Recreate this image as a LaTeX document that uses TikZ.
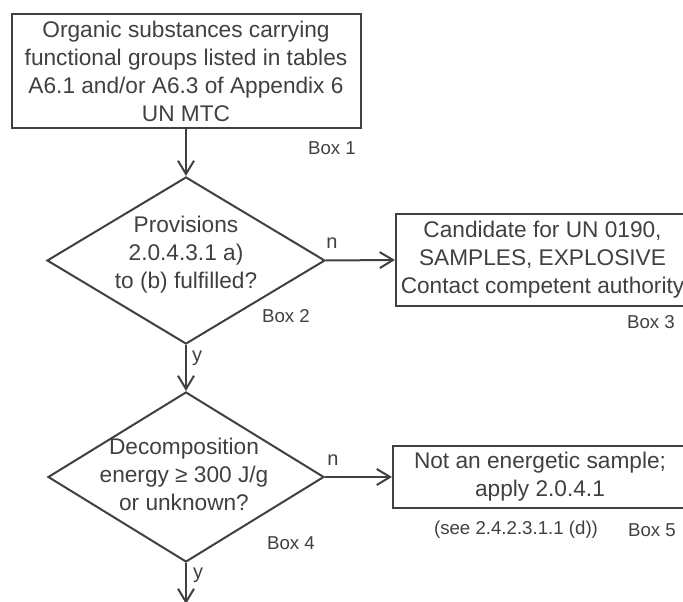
\documentclass[tikz,border=0pt]{standalone}
\usepackage{fontspec}
\setmainfont{Liberation Sans}
\usetikzlibrary{shapes.geometric,arrows.meta}
\definecolor{ink}{HTML}{404040}
\begin{document}
\begin{tikzpicture}[x=0.75pt,y=-0.75pt,color=ink,
  box/.style={draw=ink, line width=1.5pt, rectangle, inner sep=0pt, align=center, font=\fontsize{17}{21}\selectfont},
  dia/.style={draw=ink, line width=1.5pt, diamond, inner sep=0pt},
  txt/.style={align=center, font=\fontsize{17}{21}\selectfont, inner sep=0pt},
  lbl/.style={font=\fontsize{14}{16}\selectfont, inner sep=0pt},
  yn/.style={font=\fontsize{15}{18}\selectfont, inner sep=0pt},
  arr/.style={draw=ink, line width=1.5pt, -{Straight Barb[length=10pt,width=12pt]}}]
\useasboundingbox (0,0) rectangle (683,602);

\node[box, minimum width=261.75pt, minimum height=85.5pt] (b1) at (186,71)
  {Organic substances carrying\\functional groups listed in tables\\A6.1 and/or A6.3 of Appendix 6\\UN MTC};
\node[lbl] (l1) at (332,148) {Box 1};

\node[dia, minimum width=208.5pt, minimum height=125.25pt] (d1) at (186,260.5) {};
\node[txt] (t1) at (186,255) {Provisions\\2.0.4.3.1 a)\\to (b) fulfilled?};
\node[lbl] (l2) at (286,316) {Box 2};
\node[yn] (n1) at (332,243) {n};
\node[yn] (y1) at (197,358) {y};

\node[box, minimum width=219.75pt, minimum height=69pt] (b3) at (542.5,260)
  {Candidate for UN 0190,\\SAMPLES, EXPLOSIVE\\Contact competent authority};
\node[lbl] (l3) at (651,322) {Box 3};

\node[dia, minimum width=207pt, minimum height=127.5pt] (d2) at (186,477) {};
\node[txt] (t2) at (184,474) {Decomposition\\energy ≥ 300 J/g\\or unknown?};
\node[lbl] (l4) at (291,543) {Box 4};
\node[yn] (n2) at (333,460) {n};
\node[yn] (y2) at (198,575) {y};

\node[box, minimum width=220.5pt, minimum height=46.5pt] (b5) at (540,477)
  {Not an energetic sample;\\apply 2.0.4.1};
\node[lbl] (s5) at (516,530) {(see 2.4.2.3.1.1 (d))};
\node[lbl] (l5) at (652,530) {Box 5};

\coordinate (end) at (186,604);

\draw[arr] (b1.south) -- (d1.north);
\draw[arr] (d1.east) -- (b3.west);
\draw[arr] (d1.south) -- (d2.north);
\draw[arr] (d2.east) -- (b5.west);
\draw[arr] (d2.south) -- (end);
\end{tikzpicture}
\end{document}
